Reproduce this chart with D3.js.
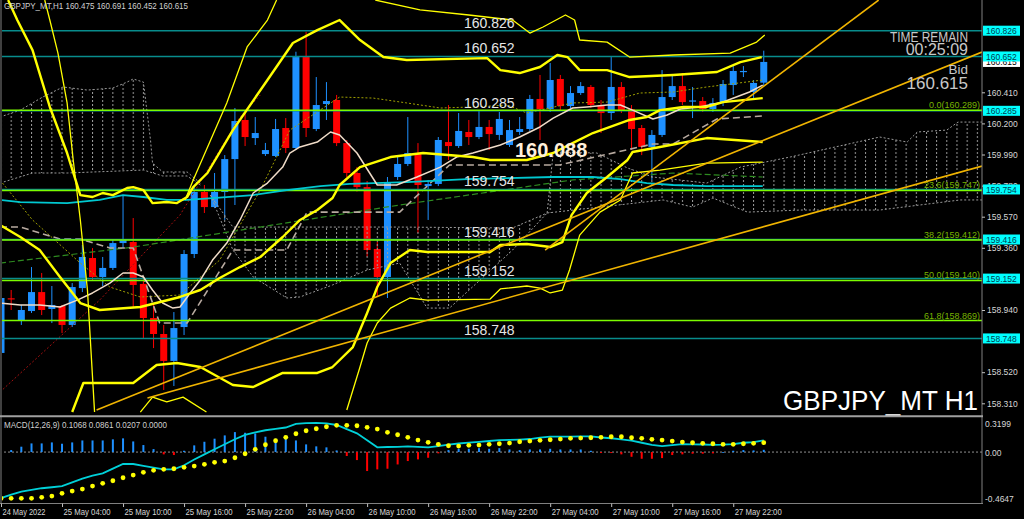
<!DOCTYPE html>
<html><head><meta charset="utf-8">
<script src="https://cdn.jsdelivr.net/npm/d3@7"></script>
<style>body{margin:0;background:#000;overflow:hidden}svg{display:block}</style>
</head><body><svg id="c" width="1024" height="519"></svg>
<script>
// ---------------- DATA ----------------
const timeLabels = ["24 May 2022","25 May 04:00","25 May 10:00","25 May 16:00","25 May 22:00","26 May 04:00","26 May 10:00","26 May 16:00","26 May 22:00","27 May 04:00","27 May 10:00","27 May 16:00","27 May 22:00"];
const timeLabelBars = [0,6,12,18,24,30,36,42,48,54,60,66,72];
// OHLC per H1 bar
const ohlc = [
[158.650,159.055,158.629,159.021],[159.015,159.075,158.940,159.012],[158.872,158.974,158.839,158.940],[158.933,159.230,158.920,159.061],
[159.061,159.190,158.906,158.940],[158.947,159.102,158.852,158.974],[158.967,158.974,158.785,158.839],[158.839,159.122,158.825,159.095],
[159.088,159.379,159.061,159.298],[159.291,159.358,159.142,159.163],[159.163,159.298,159.102,159.224],[159.224,159.412,159.210,159.392],
[159.392,159.717,159.358,159.412],[159.399,159.561,158.953,159.109],[159.116,159.142,158.751,158.886],[158.886,158.988,158.683,158.778],
[158.778,158.839,158.400,158.596],[158.596,158.926,158.427,158.818],[158.825,159.345,158.771,159.318],[159.318,159.770,159.291,159.737],
[159.737,159.784,159.595,159.635],[159.635,159.865,159.628,159.737],[159.737,159.986,159.548,159.959],[159.959,160.304,159.649,160.216],
[160.223,160.277,160.047,160.108],[160.101,160.243,160.054,160.135],[159.993,160.068,159.980,160.020],[159.980,160.230,159.973,160.162],
[160.169,160.236,160.000,160.034],[160.034,160.684,160.020,160.648],[160.648,160.819,160.108,160.169],[160.162,160.513,160.148,160.324],
[160.331,160.479,160.223,160.351],[160.358,160.392,160.047,160.067],[160.067,160.088,159.838,159.865],[159.865,159.905,159.740,159.770],
[159.770,159.811,159.300,159.345],[159.352,159.400,159.030,159.163],[159.163,159.838,159.021,159.804],[159.838,159.986,159.818,159.926],
[159.926,160.243,159.912,160.000],[160.000,160.067,159.460,159.784],[159.777,159.818,159.548,159.791],[159.791,160.108,159.777,160.088],
[160.074,160.324,159.953,160.047],[160.047,160.270,160.034,160.149],[160.142,160.223,160.054,160.108],[160.108,160.290,160.094,160.176],
[160.176,160.223,160.020,160.128],[160.122,160.277,160.088,160.230],[160.054,160.223,160.041,160.155],[160.142,160.243,160.122,160.162],
[160.162,160.392,160.149,160.365],[160.365,160.527,160.088,160.297],[160.297,160.608,160.277,160.493],[160.500,160.527,160.290,160.317],
[160.317,160.452,160.304,160.405],[160.405,160.479,160.392,160.452],[160.446,160.459,160.304,160.324],[160.324,160.358,160.135,160.270],
[160.270,160.648,160.223,160.446],[160.446,160.479,160.270,160.290],[160.297,160.324,160.020,160.162],[160.169,160.189,159.986,160.041],
[160.041,160.155,159.818,160.122],[160.122,160.560,160.108,160.378],[160.378,160.527,160.358,160.452],[160.452,160.540,160.324,160.344],
[160.344,160.446,160.236,160.351],[160.351,160.378,160.277,160.297],[160.297,160.371,160.277,160.338],[160.338,160.493,160.317,160.466],
[160.459,160.587,160.392,160.554],[160.547,160.587,160.513,160.550],[160.412,160.493,160.358,160.473],[160.475,160.691,160.452,160.615]
];
const priceTicks = [160.410,160.200,159.990,159.780,159.570,159.360,158.940,158.520,158.310];
const levelLines = [160.826,160.652,160.285,159.754,159.416,159.152,158.748];
const bidPrice = 160.615;
const fibLevels = [[0.0,160.289],[23.6,159.747],[38.2,159.412],[50.0,159.140],[61.8,158.869]];
const pivotText = 160.088;
// indicator lines as [bar, price]
const maFast = [[-0.1,158.987],[1.9,158.974],[3.8,158.974],[5.8,158.960],[7.5,159.007],[9.0,159.055],[10.7,159.122],[12.0,159.190],[13.0,159.190],[14.0,159.163],[14.9,159.075],[15.9,158.987],[16.9,158.953],[17.6,158.960],[18.6,159.055],[19.6,159.142],[20.8,159.277],[22.2,159.392],[23.5,159.548],[24.8,159.730],[26.2,159.797],[27.7,159.905],[28.4,160.000],[29.4,160.041],[31.1,160.074],[32.4,160.142],[33.3,160.122],[35.0,160.000],[37.0,159.784],[38.9,159.784],[40.9,159.838],[43.2,159.905],[44.8,159.973],[46.4,160.000],[49.1,160.054],[51.0,160.108],[53.0,160.176],[54.3,160.236],[56.2,160.304],[57.6,160.311],[59.6,160.324],[60.9,160.324],[62.1,160.290],[64.1,160.230],[65.5,160.257],[66.8,160.297],[68.7,160.311],[71.0,160.344],[73.6,160.412],[74.9,160.459]];
const maSlow = [[-0.1,159.683],[1.9,159.669],[6.5,159.662],[9.7,159.683],[12.0,159.716],[14.0,159.703],[16.3,159.683],[18.3,159.683],[20.8,159.696],[24.8,159.716],[28.1,159.750],[31.4,159.777],[34.3,159.791],[39.9,159.804],[45.8,159.824],[49.8,159.831],[54.3,159.838],[58.2,159.838],[60.9,159.824],[63.5,159.797],[66.1,159.784],[69.4,159.777],[74.9,159.777]];
const bandThickUpper = [[0.7,161.033],[1.6,160.898],[3.1,160.695],[4.8,160.311],[6.5,160.000],[7.8,159.716],[9.0,159.703],[10.0,159.730],[11.0,159.716],[12.4,159.764],[13.0,159.770],[14.0,159.750],[14.9,159.662],[16.3,159.669],[17.3,159.662],[18.3,159.703],[18.9,159.770],[20.3,159.865],[22.8,160.155],[26.2,160.493],[28.7,160.743],[31.1,160.830],[33.3,160.898],[35.3,160.763],[37.6,160.648],[39.9,160.628],[47.8,160.641],[49.1,160.560],[51.0,160.540],[53.0,160.581],[54.7,160.662],[55.7,160.648],[56.9,160.560],[59.6,160.560],[61.8,160.513],[66.1,160.527],[70.4,160.547],[72.7,160.614],[74.8,160.648]];
const bandThickMid = [[-0.1,159.514],[1.9,159.433],[3.8,159.345],[5.8,159.163],[7.8,158.987],[9.7,158.940],[13.7,158.960],[17.6,159.028],[19.6,159.075],[21.5,159.156],[23.5,159.230],[25.5,159.298],[27.7,159.433],[29.4,159.548],[31.1,159.615],[32.6,159.696],[33.3,159.784],[35.3,159.905],[38.3,159.973],[41.5,160.000],[46.4,159.973],[48.1,159.953],[51.7,159.953],[54.3,160.000],[56.2,160.067],[58.2,160.135],[61.8,160.223],[63.5,160.243],[64.8,160.290],[67.1,160.311],[69.4,160.311],[71.0,160.344],[74.9,160.371]];
const bandThickLower = [[7.0,158.251],[8.1,158.447],[13.0,158.447],[15.3,158.569],[17.3,158.582],[19.6,158.555],[22.8,158.434],[24.8,158.420],[27.7,158.515],[31.1,158.515],[32.6,158.555],[34.6,158.690],[36.0,158.920],[37.0,159.095],[38.3,159.257],[40.2,159.345],[41.9,159.332],[48.1,159.332],[49.1,159.379],[51.7,159.386],[54.0,159.365],[55.2,159.399],[56.1,159.581],[57.6,159.730],[59.6,159.838],[61.6,159.953],[62.1,160.007],[64.8,160.041],[69.4,160.101],[74.9,160.074]];
const bandThinLeft = [[4.3,161.033],[4.8,160.898],[5.6,160.675],[6.5,160.338],[7.1,159.953],[7.8,159.548],[8.5,159.075],[9.2,158.251]];
const bandThinRise = [[18.1,159.683],[18.9,159.818],[22.2,160.338],[24.2,160.716],[26.2,160.898],[27.1,161.033]];
const bandThinTop = [[36.8,161.033],[41.2,160.966],[46.0,160.932],[50.3,160.898],[52.0,160.810],[53.3,160.851],[55.5,160.932],[56.4,160.898],[56.9,160.763],[59.6,160.749],[61.8,160.648],[66.1,160.662],[71.7,160.675],[74.3,160.749],[75.1,160.797]];
const bandThinLow = [[34.0,158.265],[35.3,158.555],[36.0,158.717],[37.0,158.852],[38.3,158.953],[40.2,159.021],[41.9,159.007],[48.1,159.014],[49.1,159.082],[51.7,159.102],[53.0,159.088],[54.0,159.055],[55.2,159.075],[55.9,159.210],[56.9,159.446],[58.9,159.601],[60.9,159.683],[62.1,159.865],[64.8,159.885],[69.4,159.932],[74.9,159.939]];
const bandThinBottom = [[13.7,158.251],[14.9,158.352],[16.3,158.319],[17.9,158.352],[20.2,158.251]];
const midDotted = [[-0.1,159.818],[3.1,159.548],[7.8,159.257],[10.7,159.095],[13.7,159.028],[17.6,159.041],[21.5,159.277],[25.5,159.750],[28.4,160.155],[33.3,160.378],[36.6,160.371],[39.9,160.338],[43.2,160.304],[46.4,160.311],[49.8,160.324],[51.7,160.270],[53.0,160.290],[56.2,160.338],[59.6,160.344],[62.8,160.405],[66.1,160.412],[69.4,160.446],[74.9,160.493]];
const kijun = [[-0.1,159.500],[1.9,159.500],[5.8,159.419],[7.8,159.419],[10.7,159.359],[13.0,159.359],[15.6,158.852],[18.3,158.852],[22.8,159.345],[28.1,159.345],[30.1,159.601],[39.2,159.601],[44.1,159.919],[54.9,159.919],[64.1,160.061],[66.1,160.061],[70.4,160.230],[74.9,160.250]];
const greenDashed = [[-0.1,159.257],[13.0,159.365],[39.2,159.649],[56.2,159.818],[66.1,159.865],[74.9,159.838]];
const redDotted = [[-0.1,158.386],[9.7,159.007],[17.6,159.581],[23.5,160.243],[25.5,160.392]];
const cloudTop1 = [[-0.1,160.243],[1.9,160.290],[4.1,160.378],[6.1,160.446],[8.5,160.425],[11.0,160.439],[12.4,160.479],[13.0,160.500],[14.0,160.479],[14.7,160.088],[14.9,159.932],[15.9,159.872],[18.3,159.872],[19.6,159.797]];
const cloudBot1 = [[-0.1,159.797],[3.1,159.865],[6.5,159.865],[14.0,159.885],[15.9,159.845],[18.3,159.845],[19.6,159.784]];
const cloudTop2 = [[20.6,159.716],[22.8,159.500],[39.2,159.500],[50.3,159.494],[53.7,159.595]];
const cloudBot2 = [[20.6,159.716],[22.8,159.345],[24.8,159.163],[28.1,159.021],[29.4,159.028],[32.6,159.109],[36.0,159.210],[39.2,159.257],[41.9,158.953],[44.1,158.953],[47.1,159.142],[50.3,159.345],[53.7,159.595]];
const cloudTop3 = [[53.7,159.595],[54.3,160.007],[58.6,160.000],[61.6,159.899],[64.1,159.838],[69.4,159.797],[72.7,159.905],[77.6,159.973],[86.4,160.108],[89.1,160.074],[90.1,160.142],[93.0,160.155],[94.1,160.209],[96.5,160.209]];
const cloudBot3 = [[53.7,159.595],[65.1,159.683],[68.0,159.635],[70.0,159.696],[73.4,159.601],[78.6,159.615],[86.4,159.615],[94.3,159.683],[96.5,159.683]];
const trendLines = [[[9.4,158.265],[96.46,160.682]],[[14.4,158.346],[96.46,159.912]],[[53.5,159.345],[86.3,161.033]]];
// MACD(12,26,9)
const macdLine = [-0.420,-0.389,-0.360,-0.345,-0.330,-0.321,-0.311,-0.276,-0.242,-0.216,-0.195,-0.151,-0.109,-0.109,-0.125,-0.141,-0.158,-0.158,-0.120,-0.068,-0.021,0.026,0.071,0.117,0.156,0.180,0.199,0.211,0.224,0.258,0.264,0.266,0.262,0.247,0.210,0.171,0.107,0.043,0.046,0.048,0.052,0.047,0.043,0.055,0.068,0.078,0.086,0.093,0.101,0.109,0.111,0.114,0.119,0.131,0.140,0.140,0.141,0.144,0.143,0.133,0.126,0.116,0.105,0.085,0.065,0.055,0.064,0.072,0.071,0.069,0.066,0.068,0.073,0.085,0.091,0.1068];
const macdSignal = [-0.4225,-0.4225,-0.4225,-0.4225,-0.4133,-0.4015,-0.3768,-0.3558,-0.3376,-0.3102,-0.2856,-0.2619,-0.2345,-0.2099,-0.1852,-0.1670,-0.1578,-0.1524,-0.1396,-0.1277,-0.1122,-0.0940,-0.0821,-0.0520,-0.0155,0.0246,0.0666,0.1031,0.1341,0.1670,0.1943,0.2126,0.2308,0.2436,0.2436,0.2400,0.2254,0.2099,0.1797,0.1578,0.1341,0.1095,0.0885,0.0703,0.0575,0.0547,0.0611,0.0639,0.0703,0.0757,0.0821,0.0940,0.1004,0.1068,0.1122,0.1186,0.1250,0.1277,0.1305,0.1341,0.1396,0.1396,0.1305,0.1250,0.1159,0.1095,0.1004,0.0912,0.0849,0.0794,0.0757,0.0703,0.0703,0.0757,0.0794,0.0861];
const macdHist = [-0.021,0.018,0.049,0.079,0.079,0.088,0.076,0.088,0.106,0.106,0.106,0.116,0.125,0.097,0.064,0.027,-0.021,-0.027,0.012,0.061,0.094,0.122,0.152,0.182,0.176,0.170,0.140,0.122,0.146,0.106,0.070,0.052,0.043,0.015,-0.036,-0.073,-0.173,-0.158,-0.152,-0.113,-0.082,-0.067,-0.052,-0.012,0.018,0.030,0.030,0.036,0.030,0.036,0.024,0.018,0.024,0.024,0.030,0.024,0.024,0.024,0.012,-0.009,-0.009,-0.021,-0.043,-0.061,-0.061,-0.055,-0.027,-0.021,-0.015,-0.015,-0.012,0.000,0.012,0.018,0.015,0.0207];
const macdTicks = [0.3199,0.00,-0.4647];
const macdTickText = ["0.3199","0.00","-0.4647"];

// ---------------- CHART ----------------
const FONT = "'Liberation Sans', Arial, sans-serif";
const svg = d3.select("#c");
svg.append("rect").attr("width",1024).attr("height",519).attr("fill","#000");
const xs = d3.scaleLinear().domain([0,96.46]).range([1,982]);
const ys = d3.scaleLinear().domain([158.310,160.410]).range([403.3,92.3]);
const ym = d3.scaleLinear().domain([-0.4647,0.3199]).range([503,417]);

const defs = svg.append("defs");
defs.append("clipPath").attr("id","mc").append("rect").attr("x",2).attr("y",0).attr("width",980).attr("height",415);
defs.append("clipPath").attr("id","dc").append("rect").attr("x",2).attr("y",418).attr("width",980).attr("height",85);
const pat = defs.append("pattern").attr("id","hatch").attr("patternUnits","userSpaceOnUse")
  .attr("x",xs(0)-0.5).attr("y",0).attr("width",xs(1)-xs(0)).attr("height",4);
pat.append("rect").attr("x",0).attr("y",0).attr("width",1).attr("height",2).attr("fill","#9a9a9a");

const main = svg.append("g").attr("clip-path","url(#mc)");
const lineGen = d3.line().x(d=>xs(d[0])).y(d=>ys(d[1]));

// candles
const cg = main.append("g");
ohlc.forEach((d,i)=>{
  const [o,h,l,c] = d;
  const col = c>=o ? "#1e90ff" : "#ff0000";
  const x = xs(i);
  cg.append("line").attr("x1",x).attr("x2",x).attr("y1",ys(h)).attr("y2",ys(l)).attr("stroke",col).attr("stroke-width",1);
  const yt = ys(Math.max(o,c)), yb = ys(Math.min(o,c));
  if (yb-yt < 1.2) {
    cg.append("line").attr("x1",x-3.5).attr("x2",x+3.5).attr("y1",yt).attr("y2",yt).attr("stroke",col).attr("stroke-width",1.2);
  } else {
    cg.append("rect").attr("x",x-3.5).attr("y",yt).attr("width",7).attr("height",yb-yt).attr("fill",col);
  }
});

// ichimoku-like cloud hatch
[[cloudTop1,cloudBot1],[cloudTop2,cloudBot2],[cloudTop3,cloudBot3]].forEach(([t,b])=>{
  const poly = t.concat(b.slice().reverse());
  main.append("path").attr("d",lineGen(poly)+"Z").attr("fill","url(#hatch)").attr("stroke","none");
  main.append("path").attr("d",lineGen(t)).attr("fill","none").attr("stroke","#9a9a9a").attr("stroke-width",1).attr("stroke-dasharray","2,2");
  main.append("path").attr("d",lineGen(b)).attr("fill","none").attr("stroke","#9a9a9a").attr("stroke-width",1).attr("stroke-dasharray","2,2");
});

function path(data,color,w,dash){
  const p = main.append("path").datum(data).attr("d",lineGen).attr("fill","none").attr("stroke",color).attr("stroke-width",w).attr("stroke-linejoin","round");
  if(dash) p.attr("stroke-dasharray",dash);
  return p;
}
path(midDotted,"#a0a000",1,"2,2");
path(redDotted,"#a01010",1,"2,2");
path(greenDashed,"#2e8b20",1.2,"6,3");
path(kijun,"#b8aaa0",1.6,"7,4");

// horizontal level lines
levelLines.forEach(v=>{
  main.append("line").attr("x1",0).attr("x2",982).attr("y1",ys(v)).attr("y2",ys(v)).attr("stroke","#088c8c").attr("stroke-width",1.5);
});
fibLevels.forEach(([p,v])=>{
  main.append("line").attr("x1",0).attr("x2",982).attr("y1",ys(v)).attr("y2",ys(v)).attr("stroke","#7cfc00").attr("stroke-width",1.5);
  main.append("text").attr("x",980).attr("y",ys(v)-2).attr("text-anchor","end").attr("font-family",FONT).attr("font-size",9)
    .attr("fill","#78b400").text(p.toFixed(1)+"("+v.toFixed(3)+")");
});

// MAs
path(maSlow,"#00c8d0",1.8);
path(maFast,"#f0dcc8",1.5);
// bands
[bandThickUpper,bandThickMid,bandThickLower].forEach(d=>path(d,"#ffff00",2.4));
[bandThinLeft,bandThinRise,bandThinTop,bandThinLow,bandThinBottom].forEach(d=>path(d,"#ffff00",1.3));
// trend lines
trendLines.forEach(d=>path(d,"#f0b400",1.6));

// level labels
levelLines.forEach(v=>{
  main.append("text").attr("x",464).attr("y",ys(v)-3).attr("font-family",FONT).attr("font-size",14).attr("fill","#e6e6e6").text(v.toFixed(3));
});
main.append("text").attr("x",515).attr("y",157).attr("font-family",FONT).attr("font-size",20).attr("font-weight","bold").attr("fill","#fff0dc").text(pivotText.toFixed(3));

// info texts
const info = svg.append("g").attr("font-family",FONT).attr("fill","#c8c8c8").attr("text-anchor","end");
info.append("text").attr("x",968).attr("y",41.5).attr("font-size",14).attr("textLength",78).attr("lengthAdjust","spacingAndGlyphs").text("TIME REMAIN");
info.append("text").attr("x",968).attr("y",55).attr("font-size",16).text("00:25:09");
info.append("text").attr("x",968).attr("y",74).attr("font-size",13.5).text("Bid");
info.append("text").attr("x",968).attr("y",88.5).attr("font-size",17).text(bidPrice.toFixed(3));
svg.append("text").attr("x",783).attr("y",410).attr("font-family",FONT).attr("font-size",28).attr("fill","#ffffff")
  .attr("textLength",195).attr("lengthAdjust","spacingAndGlyphs").text("GBPJPY_MT H1");
svg.append("text").attr("x",4).attr("y",8.5).attr("font-family",FONT).attr("font-size",9).attr("fill","#d0d0d0")
  .attr("textLength",184).attr("lengthAdjust","spacingAndGlyphs").text("GBPJPY_MT,H1  160.475 160.691 160.452 160.615");

// frames
svg.append("line").attr("x1",1).attr("x2",1).attr("y1",0).attr("y2",503).attr("stroke","#808080");
svg.append("line").attr("x1",982).attr("x2",982).attr("y1",0).attr("y2",504).attr("stroke","#808080");
svg.append("line").attr("x1",0).attr("x2",983).attr("y1",416.3).attr("y2",416.3).attr("stroke","#a0a0a0").attr("stroke-width",2);
svg.append("line").attr("x1",0).attr("x2",983).attr("y1",503.5).attr("y2",503.5).attr("stroke","#808080");

// right price axis
const pa = svg.append("g").attr("transform","translate(982,0)")
  .call(d3.axisRight(ys).tickValues(priceTicks).tickFormat(d3.format(".3f")).tickSize(3));
pa.select(".domain").remove();
pa.selectAll("line").attr("stroke","#c0c0c0");
pa.selectAll("text").attr("font-family",FONT).attr("font-size",8.5).attr("fill","#d6d6d6").attr("x",5);

// price boxes
function box(v,bg,fg){
  const y=ys(v);
  svg.append("rect").attr("x",983).attr("y",y-5).attr("width",37).attr("height",10).attr("fill",bg);
  svg.append("text").attr("x",986).attr("y",y+3.2).attr("font-family",FONT).attr("font-size",8.5).attr("fill",fg).text(v.toFixed(3));
}
box(bidPrice,"#ffffff","#000000");
levelLines.forEach(v=>box(v,"#00ffff","#004050"));

// MACD panel
const mg = svg.append("g").attr("clip-path","url(#dc)");
mg.append("line").attr("x1",0).attr("x2",982).attr("y1",ym(0)).attr("y2",ym(0)).attr("stroke","#909090").attr("stroke-dasharray","2,2");
macdHist.forEach((v,i)=>{
  mg.append("rect").attr("x",xs(i)-1).attr("width",2)
    .attr("y",Math.min(ym(v),ym(0))).attr("height",Math.max(0.8,Math.abs(ym(v)-ym(0))))
    .attr("fill", v>=0 ? "#1e90ff" : "#ff0000");
});
mg.append("path").datum(macdLine).attr("d",d3.line().x((d,i)=>xs(i)).y(d=>ym(d))).attr("fill","none").attr("stroke","#00d0d8").attr("stroke-width",1.8);
macdSignal.forEach((v,i)=>{ mg.append("circle").attr("cx",xs(i)).attr("cy",ym(v)).attr("r",2.4).attr("fill","#ffff00"); });
svg.append("text").attr("x",4).attr("y",427.5).attr("font-family",FONT).attr("font-size",9).attr("fill","#d0d0d0")
  .attr("textLength",163).attr("lengthAdjust","spacingAndGlyphs").text("MACD(12,26,9) 0.1068 0.0861 0.0207 0.0000");
macdTicks.forEach((v,k)=>{
  const y = k==0 ? 426.5 : (k==1 ? 455.5 : 501.5);
  svg.append("text").attr("x",985).attr("y",y).attr("font-family",FONT).attr("font-size",8.5).attr("fill","#d6d6d6").text(macdTickText[k]);
});

// time axis
const ta = svg.append("g").attr("transform","translate(0,503.5)")
  .call(d3.axisBottom(xs).tickValues(timeLabelBars).tickFormat((d,k)=>timeLabels[k]).tickSize(3.5));
ta.select(".domain").remove();
ta.selectAll("line").attr("stroke","#c0c0c0");
ta.selectAll("text").attr("font-family",FONT).attr("font-size",8.5).attr("fill","#d6d6d6")
  .attr("text-anchor","start").attr("dx",0).attr("x",1).attr("y",5).attr("dy","0.71em")
  .attr("textLength",(d,k)=>k==0?43:47).attr("lengthAdjust","spacingAndGlyphs");
</script>
</body></html>
